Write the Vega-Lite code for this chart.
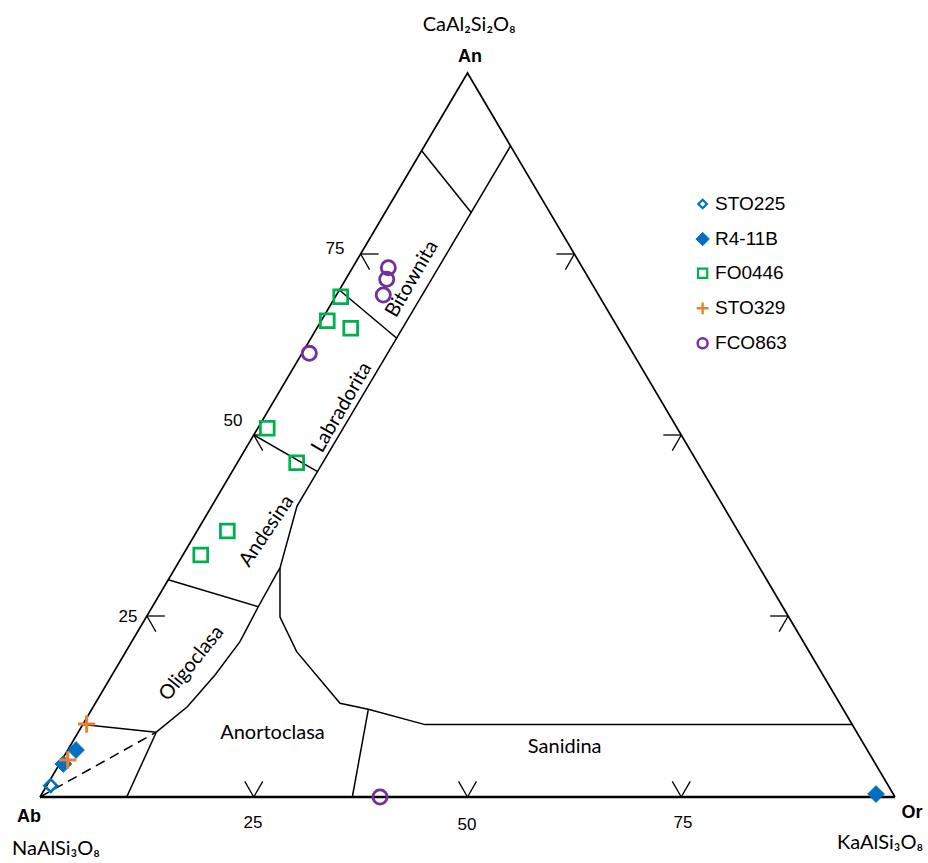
{
  "$schema": "https://vega.github.io/schema/vega-lite/v6.json",
  "width": 855,
  "height": 724,
  "autosize": {"type": "none"},
  "padding": {"left": 40, "top": 73, "right": 33, "bottom": 66},
  "background": "white",
  "config": {"view": {"stroke": null}},
  "datasets": {
    "sides": [
      {"o": 1, "x": 100, "y": 0},
      {"o": 2, "x": 50, "y": 100},
      {"o": 3, "x": 0, "y": 0}
    ],
    "base": [
      {"o": 1, "x": 0, "y": 0},
      {"o": 2, "x": 100, "y": 0}
    ],
    "boundaries": [
      {"id": "an90", "o": 1, "x": 44.64, "y": 89.27},
      {"id": "an90", "o": 2, "x": 50.45, "y": 80.7},
      {"id": "plag", "o": 1, "x": 55.04, "y": 89.92},
      {"id": "plag", "o": 2, "x": 30.06, "y": 40.19},
      {"id": "plag", "o": 3, "x": 28.07, "y": 31.63},
      {"id": "plag", "o": 4, "x": 28.07, "y": 24.86},
      {"id": "plag", "o": 5, "x": 30.02, "y": 20.07},
      {"id": "plag", "o": 6, "x": 35.09, "y": 12.94},
      {"id": "plag", "o": 7, "x": 38.4, "y": 12.11},
      {"id": "plag", "o": 8, "x": 45.03, "y": 10.0},
      {"id": "plag", "o": 9, "x": 95.0, "y": 10.0},
      {"id": "an70", "o": 1, "x": 35.04, "y": 70.0},
      {"id": "an70", "o": 2, "x": 41.73, "y": 63.36},
      {"id": "an50", "o": 1, "x": 25.0, "y": 50.0},
      {"id": "an50", "o": 2, "x": 32.46, "y": 44.93},
      {"id": "an30", "o": 1, "x": 15.0, "y": 30.0},
      {"id": "an30", "o": 2, "x": 25.53, "y": 26.28},
      {"id": "olig", "o": 1, "x": 28.07, "y": 31.63},
      {"id": "olig", "o": 2, "x": 27.69, "y": 30.9},
      {"id": "olig", "o": 3, "x": 25.53, "y": 26.28},
      {"id": "olig", "o": 4, "x": 23.39, "y": 21.45},
      {"id": "olig", "o": 5, "x": 20.47, "y": 16.85},
      {"id": "olig", "o": 6, "x": 17.23, "y": 12.47},
      {"id": "olig", "o": 7, "x": 13.6, "y": 8.95},
      {"id": "an10", "o": 1, "x": 5.0, "y": 10.0},
      {"id": "an10", "o": 2, "x": 13.6, "y": 8.95},
      {"id": "anab", "o": 1, "x": 13.6, "y": 8.95},
      {"id": "anab", "o": 2, "x": 10.14, "y": 0},
      {"id": "ansa", "o": 1, "x": 38.4, "y": 12.11},
      {"id": "ansa", "o": 2, "x": 36.53, "y": 0}
    ],
    "dashed": [
      {"o": 1, "x": 0, "y": 0},
      {"o": 2, "x": 13.6, "y": 8.95}
    ],
    "ticks": [
      {"x": 12.5, "y": 25, "x2": 14.6, "y2": 25},
      {"x": 12.5, "y": 25, "x2": 13.55, "y2": 22.85},
      {"x": 25, "y": 50, "x2": 27.1, "y2": 50},
      {"x": 25, "y": 50, "x2": 26.05, "y2": 47.85},
      {"x": 37.5, "y": 75, "x2": 39.6, "y2": 75},
      {"x": 37.5, "y": 75, "x2": 38.55, "y2": 72.85},
      {"x": 87.5, "y": 25, "x2": 85.4, "y2": 25},
      {"x": 87.5, "y": 25, "x2": 86.45, "y2": 22.85},
      {"x": 75, "y": 50, "x2": 72.9, "y2": 50},
      {"x": 75, "y": 50, "x2": 73.95, "y2": 47.85},
      {"x": 62.5, "y": 75, "x2": 60.4, "y2": 75},
      {"x": 62.5, "y": 75, "x2": 61.45, "y2": 72.85},
      {"x": 25, "y": 0, "x2": 23.95, "y2": 2.15},
      {"x": 25, "y": 0, "x2": 26.05, "y2": 2.15},
      {"x": 50, "y": 0, "x2": 48.95, "y2": 2.15},
      {"x": 50, "y": 0, "x2": 51.05, "y2": 2.15},
      {"x": 75, "y": 0, "x2": 73.95, "y2": 2.15},
      {"x": 75, "y": 0, "x2": 76.05, "y2": 2.15}
    ],
    "samples": [
      {"series": "STO225", "x": 1.25, "y": 1.56},
      {"series": "R4-11B", "x": 4.21, "y": 6.49},
      {"series": "R4-11B", "x": 2.73, "y": 4.56},
      {"series": "R4-11B", "x": 97.78, "y": 0.41},
      {"series": "FO0446", "x": 35.17, "y": 69.1},
      {"series": "FO0446", "x": 33.6, "y": 65.79},
      {"series": "FO0446", "x": 36.34, "y": 64.74},
      {"series": "FO0446", "x": 26.58, "y": 50.93},
      {"series": "FO0446", "x": 30.02, "y": 46.17},
      {"series": "FO0446", "x": 21.91, "y": 36.74},
      {"series": "FO0446", "x": 18.8, "y": 33.43},
      {"series": "FCO863", "x": 40.74, "y": 73.11},
      {"series": "FCO863", "x": 40.55, "y": 71.51},
      {"series": "FCO863", "x": 40.15, "y": 69.34},
      {"series": "FCO863", "x": 31.5, "y": 61.28},
      {"series": "FCO863", "x": 39.77, "y": 0},
      {"series": "STO329", "x": 5.46, "y": 10.08},
      {"series": "STO329", "x": 3.24, "y": 5.11}
    ],
    "legendRows": [
      {"series": "STO225", "y": 81.91},
      {"series": "R4-11B", "y": 77.07},
      {"series": "FO0446", "y": 72.33},
      {"series": "STO329", "y": 67.5},
      {"series": "FCO863", "y": 62.67}
    ],
    "tickLabels": [
      {"text": "25", "x": 10.29, "y": 24.86},
      {"text": "50", "x": 22.57, "y": 51.93},
      {"text": "75", "x": 34.5, "y": 75.69},
      {"text": "25", "x": 24.9, "y": -3.59},
      {"text": "50", "x": 49.94, "y": -3.87},
      {"text": "75", "x": 75.2, "y": -3.59}
    ],
    "vertices": [
      {"text": "An", "x": 50.3, "y": 102.2},
      {"text": "Ab", "x": -1.29, "y": -2.76},
      {"text": "Or", "x": 101.99, "y": -2.21}
    ],
    "formulas": [
      {"text": "CaAl₂Si₂O₈", "x": 50.2, "y": 106.6},
      {"text": "NaAlSi₃O₈", "x": 1.87, "y": -7.18},
      {"text": "KaAlSi₃O₈", "x": 98.25, "y": -6.35}
    ],
    "fieldsFlat": [
      {"text": "Anortoclasa", "x": 27.19, "y": 8.84},
      {"text": "Sanidina", "x": 61.37, "y": 6.95}
    ],
    "fields60": [
      {"text": "Bitownita", "x": 43.51, "y": 71.55},
      {"text": "Labradorita", "x": 35.3, "y": 53.8}
    ],
    "fieldAndesina": [
      {"text": "Andesina", "x": 26.5, "y": 36.74}
    ],
    "fieldOligoclasa": [
      {"text": "Oligoclasa", "x": 17.74, "y": 18.47}
    ]
  },
  "layer": [
    {
      "data": {"name": "boundaries"},
      "mark": {"type": "line", "stroke": "black", "strokeWidth": 1.5, "strokeJoin": "miter"},
      "encoding": {
        "x": {"field": "x", "type": "quantitative", "scale": {"domain": [0, 100], "nice": false, "zero": false}, "axis": null},
        "y": {"field": "y", "type": "quantitative", "scale": {"domain": [0, 100], "nice": false, "zero": false}, "axis": null},
        "detail": {"field": "id"},
        "order": {"field": "o"}
      }
    },
    {
      "data": {"name": "dashed"},
      "mark": {"type": "line", "stroke": "black", "strokeWidth": 1.5, "strokeDash": [10, 6]},
      "encoding": {
        "x": {"field": "x", "type": "quantitative", "scale": {"domain": [0, 100], "nice": false, "zero": false}, "axis": null},
        "y": {"field": "y", "type": "quantitative", "scale": {"domain": [0, 100], "nice": false, "zero": false}, "axis": null},
        "order": {"field": "o"}
      }
    },
    {
      "data": {"name": "sides"},
      "mark": {"type": "line", "stroke": "black", "strokeWidth": 1.7, "strokeJoin": "miter"},
      "encoding": {
        "x": {"field": "x", "type": "quantitative", "scale": {"domain": [0, 100], "nice": false, "zero": false}, "axis": null},
        "y": {"field": "y", "type": "quantitative", "scale": {"domain": [0, 100], "nice": false, "zero": false}, "axis": null},
        "order": {"field": "o"}
      }
    },
    {
      "data": {"name": "base"},
      "mark": {"type": "line", "stroke": "black", "strokeWidth": 2.6},
      "encoding": {
        "x": {"field": "x", "type": "quantitative", "scale": {"domain": [0, 100], "nice": false, "zero": false}, "axis": null},
        "y": {"field": "y", "type": "quantitative", "scale": {"domain": [0, 100], "nice": false, "zero": false}, "axis": null},
        "order": {"field": "o"}
      }
    },
    {
      "data": {"name": "ticks"},
      "mark": {"type": "rule", "stroke": "black", "strokeWidth": 1.3},
      "encoding": {
        "x": {"field": "x", "type": "quantitative", "scale": {"domain": [0, 100], "nice": false, "zero": false}, "axis": null},
        "y": {"field": "y", "type": "quantitative", "scale": {"domain": [0, 100], "nice": false, "zero": false}, "axis": null},
        "x2": {"field": "x2"},
        "y2": {"field": "y2"}
      }
    },
    {
      "data": {"name": "tickLabels"},
      "mark": {"type": "text", "font": "Liberation Sans", "fontSize": 17, "color": "black", "align": "center", "baseline": "middle"},
      "encoding": {
        "x": {"field": "x", "type": "quantitative", "scale": {"domain": [0, 100], "nice": false, "zero": false}, "axis": null},
        "y": {"field": "y", "type": "quantitative", "scale": {"domain": [0, 100], "nice": false, "zero": false}, "axis": null},
        "text": {"field": "text"}
      }
    },
    {
      "data": {"name": "vertices"},
      "mark": {"type": "text", "font": "Liberation Sans", "fontSize": 18, "fontWeight": "bold", "color": "black", "align": "center", "baseline": "middle"},
      "encoding": {
        "x": {"field": "x", "type": "quantitative", "scale": {"domain": [0, 100], "nice": false, "zero": false}, "axis": null},
        "y": {"field": "y", "type": "quantitative", "scale": {"domain": [0, 100], "nice": false, "zero": false}, "axis": null},
        "text": {"field": "text"}
      }
    },
    {
      "data": {"name": "formulas"},
      "mark": {"type": "text", "font": "Lato, Noto Sans", "fontSize": 20, "color": "black", "align": "center", "baseline": "middle"},
      "encoding": {
        "x": {"field": "x", "type": "quantitative", "scale": {"domain": [0, 100], "nice": false, "zero": false}, "axis": null},
        "y": {"field": "y", "type": "quantitative", "scale": {"domain": [0, 100], "nice": false, "zero": false}, "axis": null},
        "text": {"field": "text"}
      }
    },
    {
      "data": {"name": "fieldsFlat"},
      "mark": {"type": "text", "font": "Lato", "fontSize": 20, "color": "black", "align": "center", "baseline": "middle"},
      "encoding": {
        "x": {"field": "x", "type": "quantitative", "scale": {"domain": [0, 100], "nice": false, "zero": false}, "axis": null},
        "y": {"field": "y", "type": "quantitative", "scale": {"domain": [0, 100], "nice": false, "zero": false}, "axis": null},
        "text": {"field": "text"}
      }
    },
    {
      "data": {"name": "fields60"},
      "mark": {"type": "text", "font": "Lato", "fontSize": 20, "color": "black", "align": "center", "baseline": "middle", "angle": 300},
      "encoding": {
        "x": {"field": "x", "type": "quantitative", "scale": {"domain": [0, 100], "nice": false, "zero": false}, "axis": null},
        "y": {"field": "y", "type": "quantitative", "scale": {"domain": [0, 100], "nice": false, "zero": false}, "axis": null},
        "text": {"field": "text"}
      }
    },
    {
      "data": {"name": "fieldAndesina"},
      "mark": {"type": "text", "font": "Lato", "fontSize": 20, "color": "black", "align": "center", "baseline": "middle", "angle": 304},
      "encoding": {
        "x": {"field": "x", "type": "quantitative", "scale": {"domain": [0, 100], "nice": false, "zero": false}, "axis": null},
        "y": {"field": "y", "type": "quantitative", "scale": {"domain": [0, 100], "nice": false, "zero": false}, "axis": null},
        "text": {"field": "text"}
      }
    },
    {
      "data": {"name": "fieldOligoclasa"},
      "mark": {"type": "text", "font": "Lato", "fontSize": 20, "color": "black", "align": "center", "baseline": "middle", "angle": 309},
      "encoding": {
        "x": {"field": "x", "type": "quantitative", "scale": {"domain": [0, 100], "nice": false, "zero": false}, "axis": null},
        "y": {"field": "y", "type": "quantitative", "scale": {"domain": [0, 100], "nice": false, "zero": false}, "axis": null},
        "text": {"field": "text"}
      }
    },
    {
      "data": {"name": "samples"},
      "mark": {"type": "point", "opacity": 1},
      "encoding": {
        "x": {"field": "x", "type": "quantitative", "scale": {"domain": [0, 100], "nice": false, "zero": false}, "axis": null},
        "y": {"field": "y", "type": "quantitative", "scale": {"domain": [0, 100], "nice": false, "zero": false}, "axis": null},
        "shape": {
          "field": "series", "type": "nominal",
          "scale": {"domain": ["STO225", "R4-11B", "FO0446", "STO329", "FCO863"], "range": ["diamond", "diamond", "square", "M-1,0H1M0,-1V1", "circle"]},
          "legend": null
        },
        "stroke": {
          "field": "series", "type": "nominal",
          "scale": {"domain": ["STO225", "R4-11B", "FO0446", "STO329", "FCO863"], "range": ["#0070C0", "#0070C0", "#00B050", "#ED7D31", "#7030A0"]},
          "legend": null
        },
        "fill": {
          "field": "series", "type": "nominal",
          "scale": {"domain": ["STO225", "R4-11B", "FO0446", "STO329", "FCO863"], "range": ["transparent", "#0070C0", "transparent", "transparent", "transparent"]},
          "legend": null
        },
        "size": {
          "field": "series", "type": "nominal",
          "scale": {"type": "ordinal", "domain": ["STO225", "R4-11B", "FO0446", "STO329", "FCO863"], "range": [160, 280, 190, 300, 200]},
          "legend": null
        },
        "strokeWidth": {
          "field": "series", "type": "nominal",
          "scale": {"type": "ordinal", "domain": ["STO225", "R4-11B", "FO0446", "STO329", "FCO863"], "range": [2.6, 1, 2.8, 3, 2.8]},
          "legend": null
        }
      }
    },
    {
      "data": {"name": "legendRows"},
      "mark": {"type": "point", "opacity": 1},
      "encoding": {
        "x": {"datum": 77.5, "type": "quantitative", "scale": {"domain": [0, 100], "nice": false, "zero": false}, "axis": null},
        "y": {"field": "y", "type": "quantitative", "scale": {"domain": [0, 100], "nice": false, "zero": false}, "axis": null},
        "shape": {"field": "series", "type": "nominal", "scale": {"domain": ["STO225", "R4-11B", "FO0446", "STO329", "FCO863"], "range": ["diamond", "diamond", "square", "M-1,0H1M0,-1V1", "circle"]}, "legend": null},
        "stroke": {"field": "series", "type": "nominal", "scale": {"domain": ["STO225", "R4-11B", "FO0446", "STO329", "FCO863"], "range": ["#0070C0", "#0070C0", "#00B050", "#ED7D31", "#7030A0"]}, "legend": null},
        "fill": {"field": "series", "type": "nominal", "scale": {"domain": ["STO225", "R4-11B", "FO0446", "STO329", "FCO863"], "range": ["transparent", "#0070C0", "transparent", "transparent", "transparent"]}, "legend": null},
        "size": {
          "field": "series", "type": "nominal",
          "scale": {"type": "ordinal", "domain": ["STO225", "R4-11B", "FO0446", "STO329", "FCO863"], "range": [72, 180, 85, 140, 100]},
          "legend": null
        },
        "strokeWidth": {
          "field": "series", "type": "nominal",
          "scale": {"type": "ordinal", "domain": ["STO225", "R4-11B", "FO0446", "STO329", "FCO863"], "range": [2.2, 1, 2.2, 2.4, 2.4]},
          "legend": null
        }
      }
    },
    {
      "data": {"name": "legendRows"},
      "mark": {"type": "text", "font": "Liberation Sans", "fontSize": 19, "color": "black", "align": "left", "baseline": "middle"},
      "encoding": {
        "x": {"datum": 78.95, "type": "quantitative", "scale": {"domain": [0, 100], "nice": false, "zero": false}, "axis": null},
        "y": {"field": "y", "type": "quantitative", "scale": {"domain": [0, 100], "nice": false, "zero": false}, "axis": null},
        "text": {"field": "series"}
      }
    }
  ],
  "resolve": {"scale": {"size": "independent", "strokeWidth": "independent"}}
}
